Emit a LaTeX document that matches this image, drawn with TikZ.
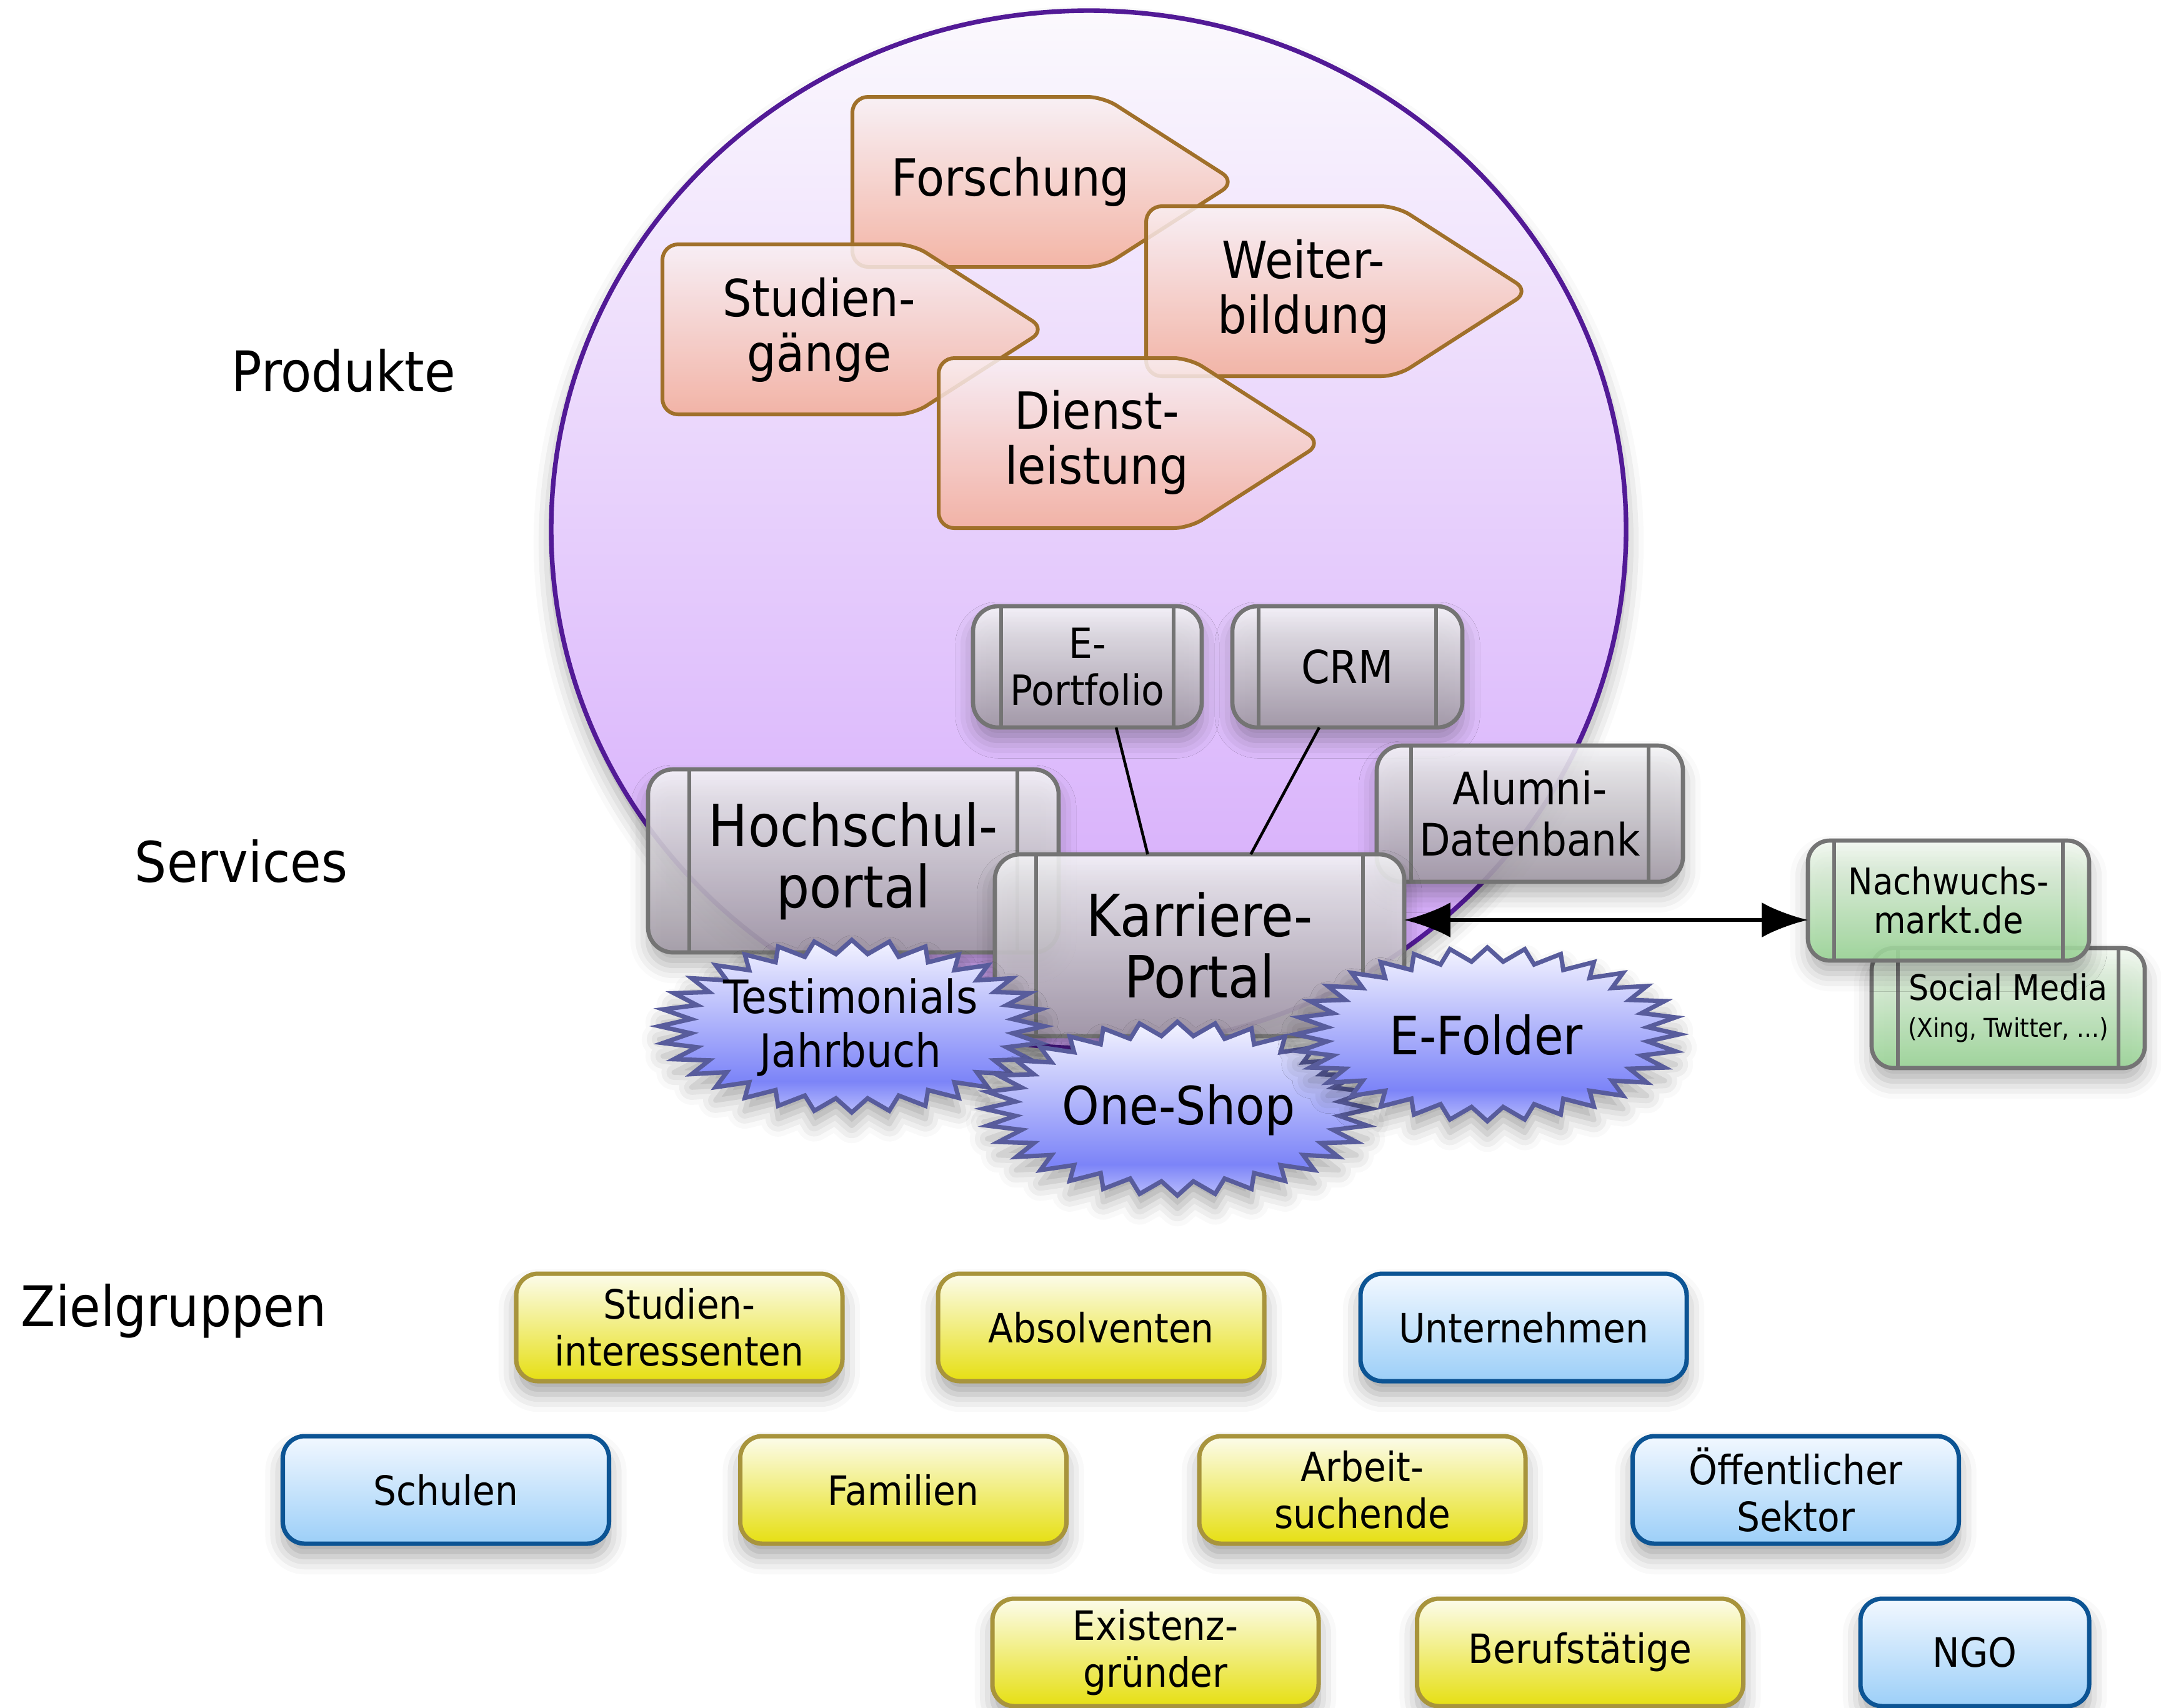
\documentclass[tikz,border=0pt]{standalone}
\usepackage{fontspec}
\setmainfont{DejaVu Sans}[FakeStretch=0.9]
\usetikzlibrary{arrows.meta,shadows.blur}

\definecolor{ellline}{HTML}{521A96}
\definecolor{elltop}{HTML}{FBF9FD}
\definecolor{ellbot}{HTML}{D2A4FB}
\definecolor{prodline}{HTML}{A0702A}
\definecolor{prodtop}{HTML}{F9F0F4}
\definecolor{prodbot}{HTML}{F4AE98}
\definecolor{svcline}{HTML}{747474}
\definecolor{svctop}{HTML}{F6F6F8}
\definecolor{svcbot}{HTML}{A49CA8}
\definecolor{grntop}{HTML}{F4FAF2}
\definecolor{grnbot}{HTML}{9CD898}
\definecolor{burstline}{HTML}{585C9C}
\definecolor{bursttop}{HTML}{F4F4FF}
\definecolor{burstdark}{HTML}{7C84F8}
\definecolor{burstbot}{HTML}{B8BCFC}
\definecolor{yelline}{HTML}{A8943C}
\definecolor{yeltop}{HTML}{FCFCEC}
\definecolor{yelbot}{HTML}{E6DF12}
\definecolor{bluline}{HTML}{0C5494}
\definecolor{blutop}{HTML}{F2F8FF}
\definecolor{blubot}{HTML}{9CCFF8}

\pgfdeclareverticalshading{burstshade}{100bp}{color(0bp)=(burstbot); color(25bp)=(burstbot); color(34bp)=(burstdark); color(75bp)=(bursttop); color(100bp)=(bursttop)}

\tikzset{
  softshadow/.style={blur shadow={shadow xshift=0pt, shadow yshift=-6pt, shadow blur radius=8pt, shadow opacity=35}},
  ell/.style={draw=ellline, line width=2.1pt, top color=elltop, bottom color=ellbot, softshadow},
  prod/.style={draw=prodline, line width=1.7pt, rounded corners=0.25cm, top color=prodtop, bottom color=prodbot, fill opacity=0.85},
  prodtext/.style={align=center, font=\fontsize{23.3}{25}\selectfont},
  svc/.style={draw=svcline, line width=1.9pt, rounded corners=0.4cm, top color=svctop, bottom color=svcbot, fill opacity=0.88, text opacity=1, align=center, inner sep=0pt, outer sep=0pt, softshadow},
  gsvc/.style={svc, top color=grntop, bottom color=grnbot, rounded corners=0.35cm},
  svcin/.style={draw=svcline, line width=1.7pt},
  burst/.style={draw=burstline, line width=2pt, shade, shading=burstshade, line join=miter, softshadow},
  bursttext/.style={align=center},
  conn/.style={draw=black, line width=1.3pt},
  dbl/.style={draw=black, line width=1.9pt, {Latex[length=21pt,width=16pt]}-{Latex[length=21pt,width=16pt]}},
  tgt/.style={line width=2pt, rounded corners=0.35cm, minimum width=5.22cm, minimum height=1.72cm, align=center, inner sep=0pt, outer sep=0pt, font=\fontsize{18.4}{21.3}\selectfont, softshadow},
  yel/.style={tgt, draw=yelline, top color=yeltop, bottom color=yelbot},
  blu/.style={tgt, draw=bluline, top color=blutop, bottom color=blubot},
  lab/.style={anchor=base, font=\fontsize{25.5}{28}\selectfont},
}

\newcommand\prodshape[2]{\path[prod] (#1,#2) -- ++(4.01,0) -- ++(2.12,1.36) -- ++(-2.12,1.36) -- ++(-4.01,0) -- cycle;}
\newcommand\svclines[2]{\draw[svcin] ([xshift=#2]#1.north west) -- ([xshift=#2]#1.south west);
  \draw[svcin] ([xshift=-#2]#1.north east) -- ([xshift=-#2]#1.south east);}
\newcommand\burstpath[4]{\path[burst] plot[samples at={0,...,63}, variable=\k] ({#1+#3*(1-0.16*mod(\k,2))*cos(90+\k*5.625)}, {#2+#4*(1-0.16*mod(\k,2))*sin(90+\k*5.625)}) -- cycle;}

\begin{document}
\begin{tikzpicture}[y=-1cm]
\useasboundingbox (0,0) rectangle (34.58,27.32);

% big ellipse
\path[ell] (17.42,8.47) ellipse [x radius=8.60, y radius=8.30];

% products
\prodshape{13.64}{1.55}
\node[prodtext] (fo) at (16.17,2.91) {Forschung};
\prodshape{10.60}{3.91}
\node[prodtext] (sg) at (13.11,5.28) {Studien-\\gänge};
\prodshape{18.34}{3.30}
\node[prodtext] (wb) at (20.86,4.67) {Weiter-\\bildung};
\prodshape{15.02}{5.73}
\node[prodtext] (dl) at (17.55,7.08) {Dienst-\\leistung};

% services
\node[svc, minimum width=3.66cm, minimum height=1.94cm, font=\fontsize{19}{21.3}\selectfont] (ep) at (17.40,10.67) {E-\\Portfolio};
\svclines{ep}{0.45cm}
\node[svc, minimum width=3.68cm, minimum height=1.94cm, font=\fontsize{20.7}{23}\selectfont] (crm) at (21.56,10.67) {CRM};
\svclines{crm}{0.42cm}
\node[svc, minimum width=4.90cm, minimum height=2.18cm, font=\fontsize{20.4}{23.3}\selectfont] (ad) at (24.48,13.02) {Alumni-\\Datenbank};
\svclines{ad}{0.55cm}
\node[svc, minimum width=6.57cm, minimum height=2.93cm, font=\fontsize{26.5}{28}\selectfont] (hp) at (13.655,13.775) {Hochschul-\\portal};
\svclines{hp}{0.66cm}
\node[svc, minimum width=6.55cm, minimum height=2.91cm, font=\fontsize{26.5}{28}\selectfont] (kp) at (19.195,15.125) {Karriere-\\Portal};
\svclines{kp}{0.66cm}

\coordinate (c1a) at ([xshift=0.46cm]ep.south);
\coordinate (c1b) at ([xshift=-0.83cm]kp.north);
\coordinate (c2a) at ([xshift=-0.45cm]crm.south);
\coordinate (c2b) at ([xshift=0.82cm]kp.north);
\draw[conn] (c1a) -- (c1b);
\draw[conn] (c2a) -- (c2b);

% bursts
\burstpath{13.63}{16.42}{3.08}{1.38}
\node[bursttext, font=\fontsize{20.9}{24.5}\selectfont] (tj) at (13.61,16.44) {Testimonials\\Jahrbuch};
\burstpath{18.84}{17.74}{3.10}{1.39}
\node[bursttext, font=\fontsize{24}{26}\selectfont] (os) at (18.86,17.76) {One-Shop};
\burstpath{23.80}{16.55}{3.07}{1.39}
\node[bursttext, font=\fontsize{24}{26}\selectfont] (ef) at (23.78,16.56) {E-Folder};

% external
\node[gsvc, minimum width=4.37cm, minimum height=1.92cm, font=\fontsize{16}{16}\selectfont] (sm) at (32.135,16.13) {Social Media\\[1pt]{\fontsize{11.8}{13}\selectfont (Xing, Twitter, ...)}};
\svclines{sm}{0.42cm}
\node[gsvc, minimum width=4.50cm, minimum height=1.92cm, font=\fontsize{16.7}{17.6}\selectfont] (nm) at (31.18,14.41) {Nachwuchs-\\markt.de};
\svclines{nm}{0.42cm}

\coordinate (arrL) at ([yshift=0.405cm]kp.east);
\coordinate (arrR) at (arrL -| nm.west);
\draw[dbl] (arrL) -- (arrR);

% labels
\node[lab] (lp) at (5.50,6.26) {Produkte};
\node[lab] (ls) at (3.86,14.11) {Services};
\node[lab] (lz) at (2.78,21.22) {Zielgruppen};

% target groups
\node[yel] (si) at (10.87,21.24) {Studien-\\interessenten};
\node[yel] (ab) at (17.62,21.24) {Absolventen};
\node[blu] (un) at (24.38,21.24) {Unternehmen};
\node[blu] (sc) at (7.135,23.84) {Schulen};
\node[yel] (fa) at (14.455,23.84) {Familien};
\node[yel] (as) at (21.80,23.84) {Arbeit-\\suchende};
\node[blu] (oe) at (28.735,23.84) {Öffentlicher\\Sektor};
\node[yel] (eg) at (18.49,26.44) {Existenz-\\gründer};
\node[yel] (be) at (25.285,26.44) {Berufstätige};
\node[blu, minimum width=3.66cm] (ngo) at (31.60,26.44) {NGO};
\end{tikzpicture}
\end{document}
